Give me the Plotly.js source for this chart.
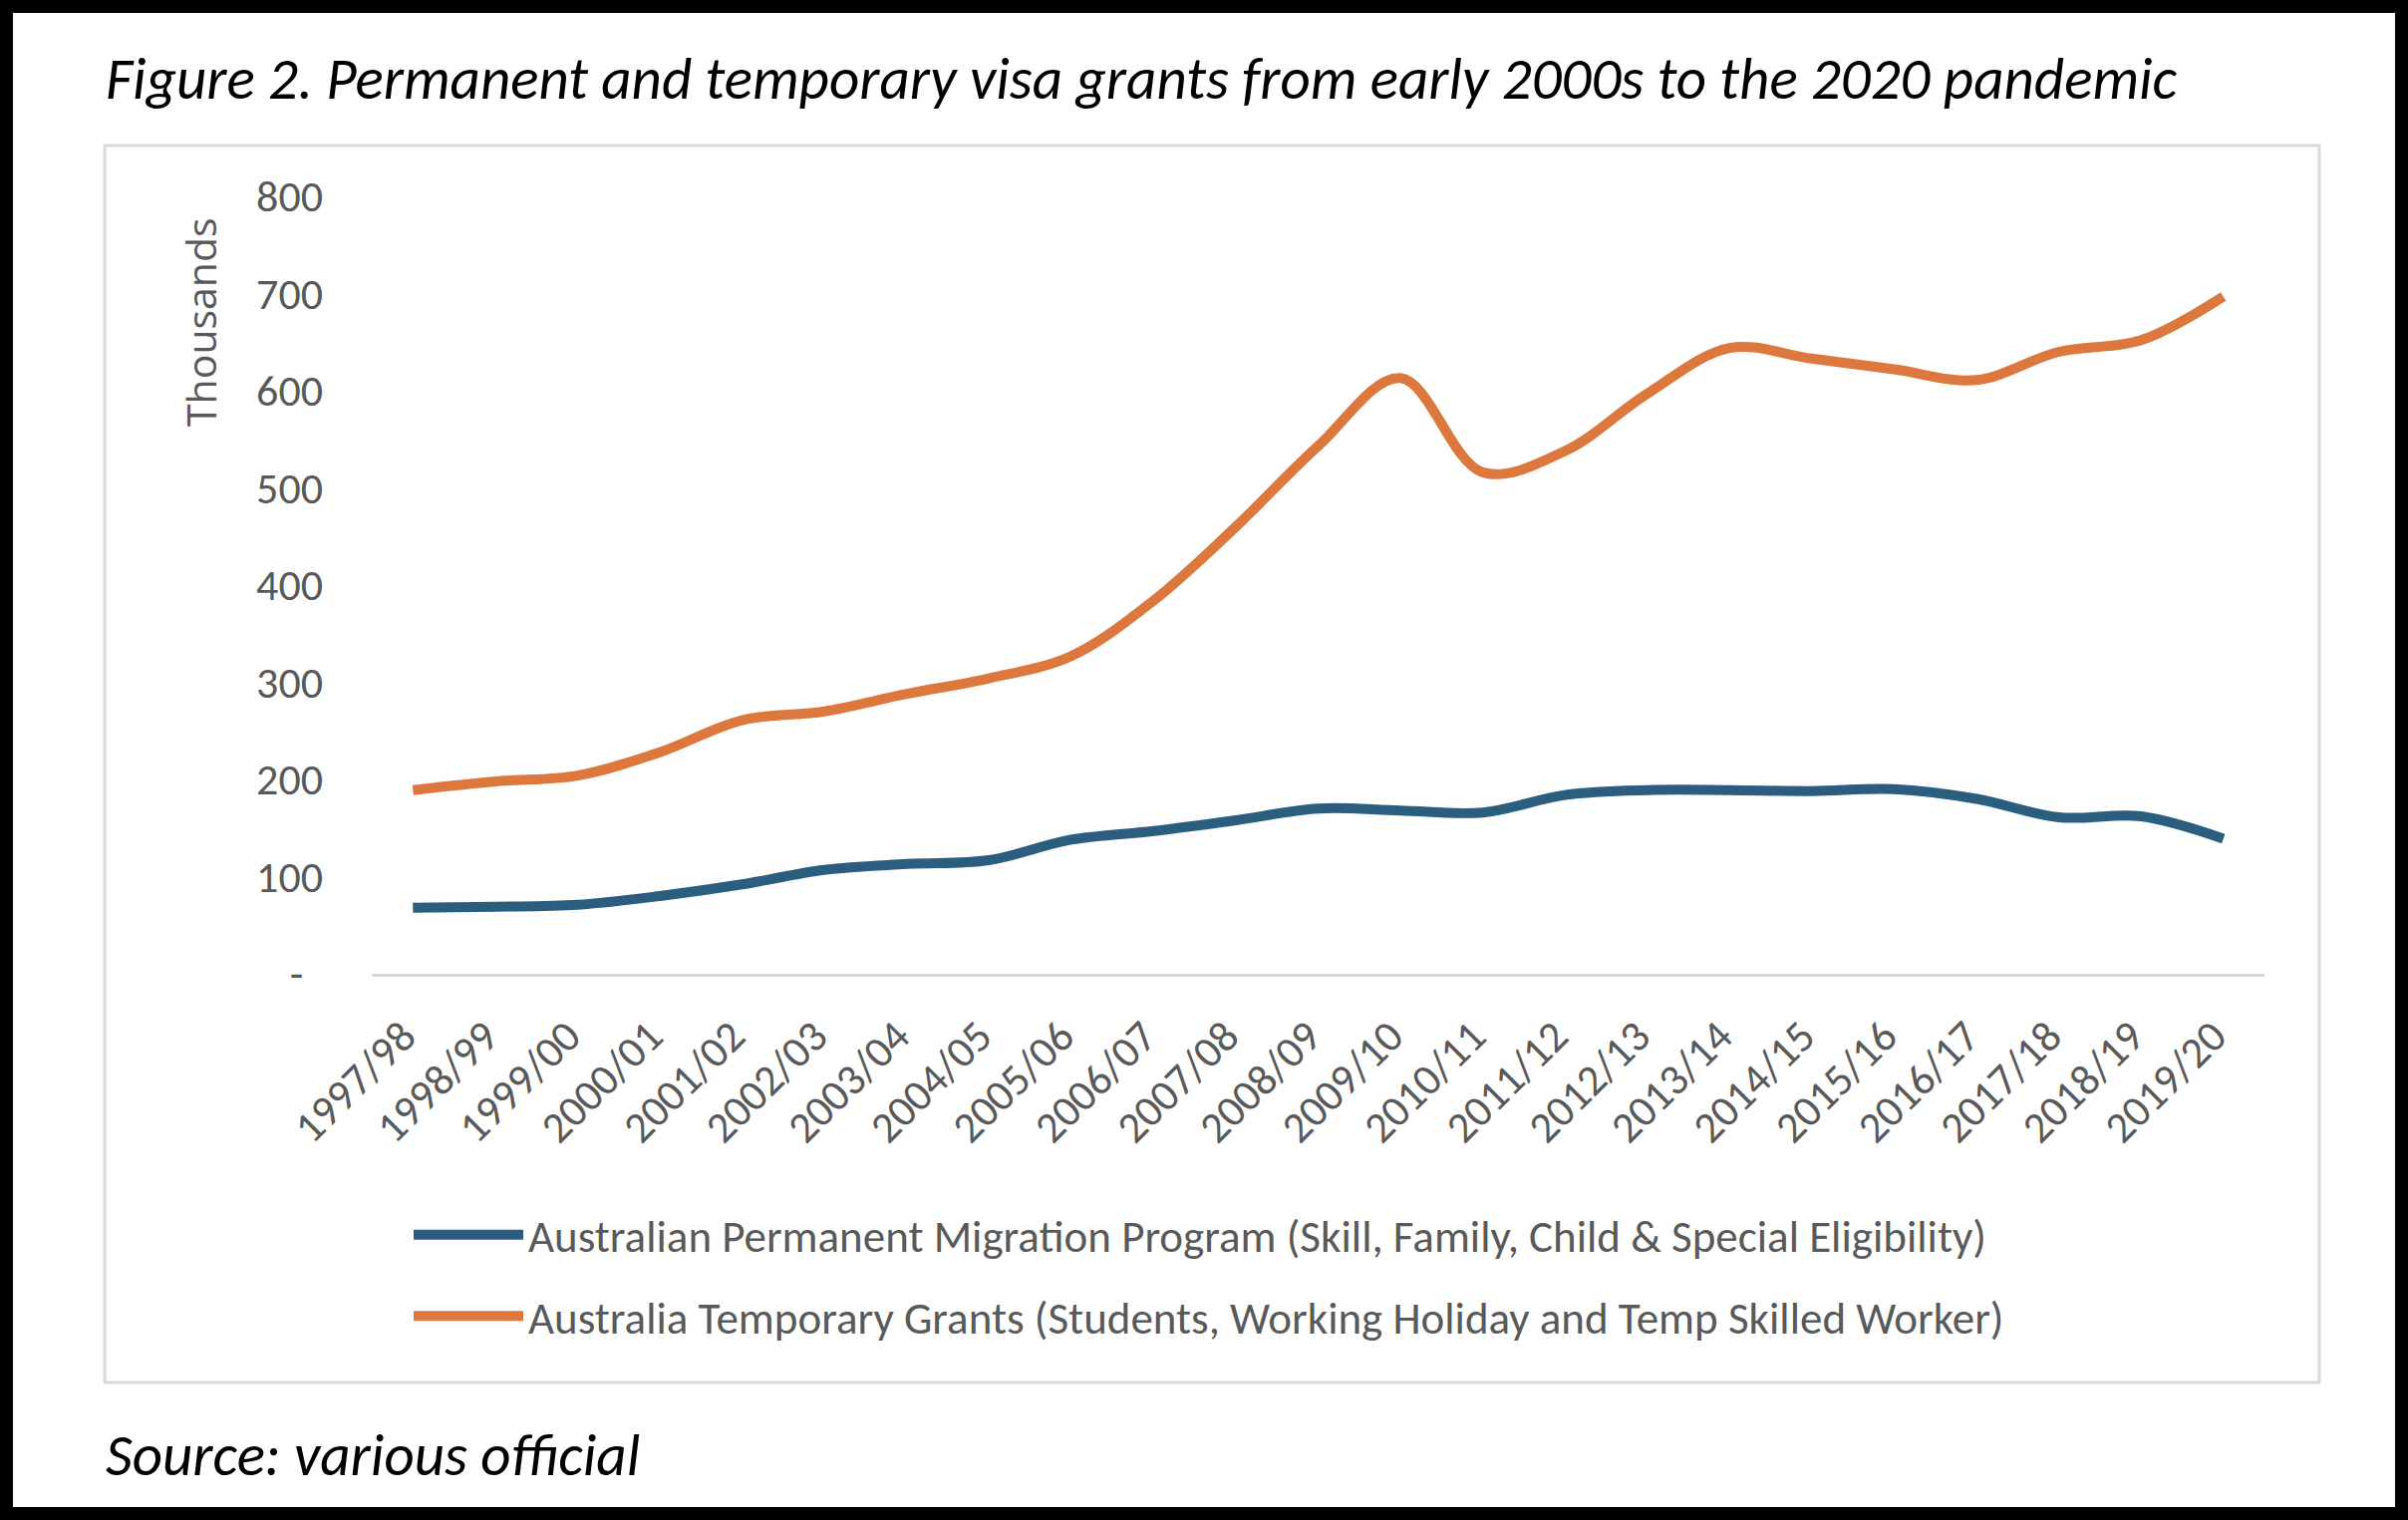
<!DOCTYPE html>
<html>
<head>
<meta charset="utf-8">
<script src="https://cdn.plot.ly/plotly-3.0.1.min.js"></script>
<style>
  html, body { margin: 0; padding: 0; background: #fff; }
</style>
</head>
<body>
<div id="plot"></div>
<script>
// financial years on the x axis
var years = ["1997/98", "1998/99", "1999/00", "2000/01", "2001/02", "2002/03", "2003/04",
  "2004/05", "2005/06", "2006/07", "2007/08", "2008/09", "2009/10", "2010/11", "2011/12",
  "2012/13", "2013/14", "2014/15", "2015/16", "2016/17", "2017/18", "2018/19", "2019/20"];

// thousands of grants
var permanent = [68, 69, 71, 80, 92, 107, 113, 117, 138, 147, 158, 170, 168, 166, 184,
  189, 189, 188, 190, 180, 161, 162, 139];
var temporary = [189, 198, 204, 228, 261, 270, 288, 304, 327, 384, 460, 543, 613, 516, 538,
  597, 644, 633, 622, 611, 640, 652, 697];

var yTickVals = [0, 100, 200, 300, 400, 500, 600, 700, 800];
var yTickText = ["-\u00a0\u00a0", "100", "200", "300", "400", "500", "600", "700", "800"];

var permName = "Australian Permanent Migration Program (Skill, Family, Child & Special Eligibility)";
var tempName = "Australia Temporary Grants (Students, Working Holiday and Temp Skilled Worker)";

var W = 2416, H = 1525;
var L = 373, R = 144, T = 197, B = 548;
var plotW = W - L - R, plotH = H - T - B;
// pixel -> paper helpers for the frame shapes
function px(x) { return (x - L) / plotW; }
function py(y) { return (H - B - y) / plotH; }

var grey = "#595959";
var font = "Carlito, Lato, sans-serif";

var trace1 = {
  x: years,
  y: permanent,
  name: permName,
  type: "scatter",
  mode: "lines",
  line: { color: "#2b5d7f", width: 10, shape: "spline", smoothing: 1 },
  legendgroup: "a"
};
var trace2 = {
  x: years,
  y: temporary,
  name: tempName,
  type: "scatter",
  mode: "lines",
  line: { color: "#dc783e", width: 10, shape: "spline", smoothing: 1 },
  legendgroup: "b"
};

var layout = {
  width: W,
  height: H,
  margin: { l: L, r: R, t: T, b: B, autoexpand: false },
  paper_bgcolor: "#fff",
  plot_bgcolor: "#fff",
  title: {
    text: "<i>Figure 2. Permanent and temporary visa grants from early 2000s to the 2020 pandemic</i>",
    font: { family: font, size: 59, color: "#000" },
    x: 106 / W, xanchor: "left", xref: "container",
    y: 1 - 78 / H, yanchor: "middle", yref: "container"
  },
  xaxis: {
    type: "category",
    range: [-0.5, years.length - 0.5],
    showgrid: false,
    zeroline: false,
    showline: true,
    linecolor: "#d9d9d9",
    linewidth: 3,
    ticks: "",
    tickangle: -45,
    ticklabelstandoff: 16,
    ticklabelshift: -10,
    tickfont: { family: font, size: 44, color: grey }
  },
  yaxis: {
    range: [0, 800],
    showgrid: false,
    zeroline: false,
    showline: false,
    ticks: "",
    tickvals: yTickVals,
    ticktext: yTickText,
    ticklabelstandoff: 48,
    tickfont: { family: font, size: 44, color: grey }
  },
  showlegend: true,
  legend: {
    orientation: "v",
    xref: "container", yref: "container",
    x: 410 / W, xanchor: "left",
    y: 1 - 1203 / H, yanchor: "top",
    traceorder: "grouped",
    tracegroupgap: 20,
    itemwidth: 110,
    font: { family: font, size: 45, color: grey },
    bgcolor: "rgba(0,0,0,0)"
  },
  shapes: [
    // light grey chart frame
    { type: "rect", xref: "paper", yref: "paper",
      x0: px(105), x1: px(2327), y0: py(1387), y1: py(146),
      line: { color: "#d9d9d9", width: 3 }, layer: "below" },
    // black outer border of the figure
    { type: "rect", xref: "paper", yref: "paper",
      x0: px(6), x1: px(W - 6), y0: py(H - 6), y1: py(6),
      line: { color: "#000", width: 14 }, layer: "above" }
  ],
  annotations: [
    { text: "Thousands", textangle: -90, showarrow: false,
      xref: "paper", yref: "paper", x: px(201), y: py(323),
      xanchor: "center", yanchor: "middle",
      font: { family: "Open Sans, sans-serif", size: 41, color: grey } },
    { text: "<i>Source: various official</i>", showarrow: false,
      xref: "paper", yref: "paper", x: px(104), y: py(1460),
      xanchor: "left", yanchor: "middle",
      font: { family: font, size: 59, color: "#000" } }
  ]
};

Plotly.newPlot("plot", [trace1, trace2], layout, { displayModeBar: false });
</script>
</body>
</html>
